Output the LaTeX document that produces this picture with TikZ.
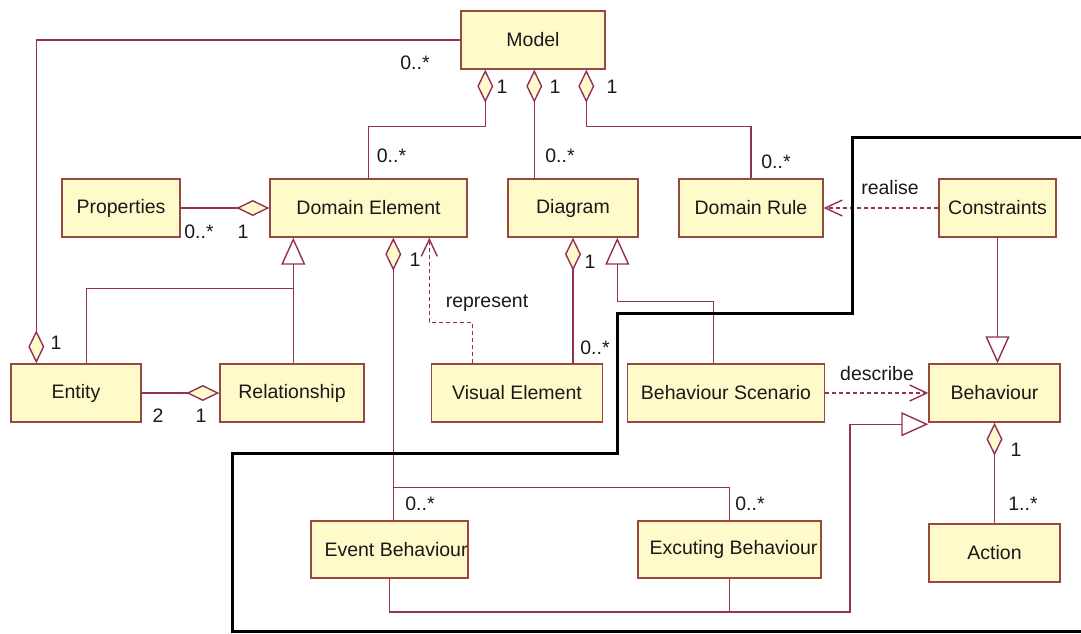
\documentclass[tikz,border=0pt]{standalone}
\usepackage{fontspec}
\setmainfont{Liberation Sans}
\usetikzlibrary{arrows.meta,calc}
\definecolor{boxfill}{RGB}{255,250,202}
\definecolor{boxline}{RGB}{152,72,62}
\definecolor{assoc}{RGB}{146,48,88}
\definecolor{ink}{RGB}{25,25,25}
\tikzset{
  Agg/.tip={Diamond[length=33pt,width=16pt,fill=boxfill]},
  Gen/.tip={Triangle[length=27pt,width=24pt,fill=white]},
  Dep/.tip={Straight Barb[length=17pt,width=16pt]},
}
\begin{document}
\begin{tikzpicture}[x=1pt,y=-1pt,
  every node/.style={font=\fontsize{19.5}{23}\selectfont, text=ink},
  cls/.style={draw=boxline, fill=boxfill, line width=1.4pt, minimum height=58pt, inner sep=0pt},
  conn/.style={draw=assoc, line width=1.4pt},
  dep/.style={conn, dash pattern=on 4pt off 3pt},
  frame/.style={draw=black, line width=3pt, line join=miter},
  lbl/.style={inner sep=0pt}]
\useasboundingbox (0,0) rectangle (1081,633);

% classes
\node[cls, minimum width=144pt] (model) at (533,40) {Model};
\node[cls, minimum width=118pt] (props) at (121,208) {Properties};
\node[cls, minimum width=197pt] (de) at (368.5,208) {Domain Element};
\node[cls, minimum width=130pt] (diagram) at (573,208) {Diagram};
\node[cls, minimum width=144pt] (drule) at (751,208) {Domain Rule};
\node[cls, minimum width=117pt] (cons) at (997.5,208) {Constraints};
\node[cls, minimum width=130pt] (entity) at (76,393) {Entity};
\node[cls, minimum width=144pt] (rel) at (292,393) {Relationship};
\node[cls, minimum width=171pt] (ve) at (517,393) {Visual Element};
\node[cls, minimum width=197pt] (bs) at (726,393) {Behaviour Scenario};
\node[cls, minimum width=131pt] (beh) at (994.5,393) {Behaviour};
\node[cls, minimum width=157pt, minimum height=57pt] (event) at (389.5,549.5) {};
\node[lbl, anchor=west] (eventtxt) at ([xshift=14pt]event.west) {Event Behaviour};
\node[cls, minimum width=183pt, minimum height=57pt] (exec) at (729.5,549.5) {};
\node[lbl, anchor=west] (exectxt) at ([xshift=12pt]exec.west) {Excuting Behaviour};
\node[cls, minimum width=131pt] (action) at (994.5,553) {Action};

% attachment points
\coordinate (m1) at ([xshift=25pt]model.south west);
\coordinate (m2) at ([xshift=74pt]model.south west);
\coordinate (m3) at ([xshift=126pt]model.south west);
\coordinate (g1) at ([xshift=24pt]de.south west);
\coordinate (g1j) at ([yshift=-51pt]g1);
\coordinate (d1) at ([xshift=124pt]de.south west);
\coordinate (b1) at ($(d1 |- event.north)+(0,-33)$);
\coordinate (bb) at (850,612);
\coordinate (g2) at ([xshift=110pt]diagram.south west);

% model aggregations
\draw[conn, -Agg] (model.west) -| ([xshift=26pt]entity.north west);
\draw[conn, Agg-] (m1) -- ++(0,57) -| (de.north);
\draw[conn, Agg-] (m2) -- (m2 |- diagram.north);
\draw[conn, Agg-] (m3) -- ++(0,57) -| (drule.north);

% domain element
\draw[conn, -Agg] (props.east) -- (de.west);
\draw[conn, -Gen] (g1 |- rel.north) -- (g1);
\draw[conn] ([xshift=76pt]entity.north west) |- (g1j);
\draw[conn, -Agg] (entity.east) -- (rel.west);
\draw[conn, Agg-] (d1) -- (d1 |- event.north);
\draw[conn] (b1) -| (exec.north);
\draw[dep, -Dep] ([xshift=41.5pt]ve.north west) -- ++(0,-41) -| ([xshift=160pt]de.south west);

% diagram
\draw[conn, Agg-] (diagram.south) -- (diagram.south |- ve.north);
\draw[conn, -Gen] ([xshift=-12.5pt]bs.north) -- ++(0,-62) -| (g2);

% behaviour
\draw[conn, -Gen] (event.south) |- (bb) |- ([yshift=-1.5pt]beh.south west);
\draw[conn] (exec.south) -- (exec.south |- bb);
\draw[dep, -Dep] (cons.west) -- (cons.west -| drule.east);
\draw[conn, -Gen] (cons.south) -- (cons.south |- beh.north);
\draw[dep, -Dep] (bs.east) -- (beh.west);
\draw[conn, Agg-] (beh.south) -- (action.north);

% multiplicities and stereotypes
\node[lbl] (t1) at (415,63) {0..*};
\node[lbl] (t2) at (502,87) {1};
\node[lbl] (t3) at (555,87) {1};
\node[lbl] (t4) at (612,87) {1};
\node[lbl] (t5) at (391.5,156) {0..*};
\node[lbl] (t6) at (560,156) {0..*};
\node[lbl] (t7) at (776,162) {0..*};
\node[lbl] (t8) at (199,232) {0..*};
\node[lbl] (t9) at (243,232) {1};
\node[lbl] (t10) at (415,260) {1};
\node[lbl] (t11) at (590,262) {1};
\node[lbl] (t12) at (487,303) {represent};
\node[lbl] (t13) at (890,188) {realise};
\node[lbl] (t14) at (56,343) {1};
\node[lbl] (t15) at (595,348) {0..*};
\node[lbl] (t16) at (158,416) {2};
\node[lbl] (t17) at (201,416) {1};
\node[lbl] (t18) at (877,374) {describe};
\node[lbl] (t19) at (1016,450) {1};
\node[lbl] (t20) at (420,504) {0..*};
\node[lbl] (t21) at (750,504) {0..*};
\node[lbl] (t22) at (1023,504) {1..*};

% heavy outline
\draw[frame] (1081,137) -- (852,137) -- (852,313) -- (617.6,313) -- (617.6,453)
  -- (232,453) -- (232,631.5) -- (1081,631.5);
\end{tikzpicture}
\end{document}
